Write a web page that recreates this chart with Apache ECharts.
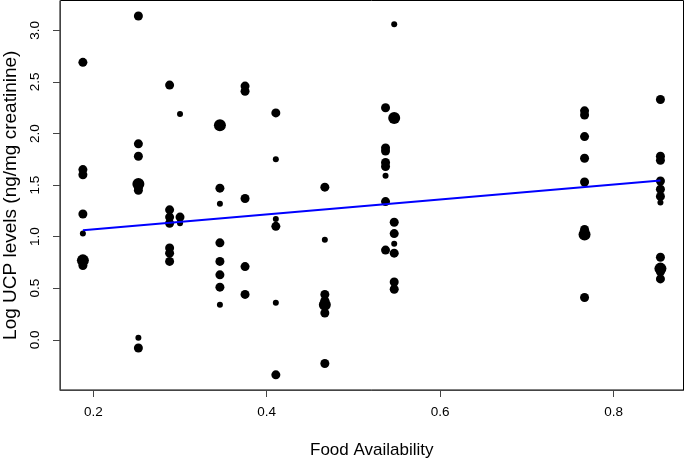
<!DOCTYPE html>
<html><head><meta charset="utf-8">
<script src="https://cdn.jsdelivr.net/npm/echarts@6/dist/echarts.min.js"></script>
<style>html,body{margin:0;padding:0;background:#fff}#c{width:685px;height:460px}</style>
</head><body><div id="c"></div>
<script>
// Data
const foodAvail = [
  0.188,0.188,0.188,0.188,0.188,0.188,0.188,0.188,
  0.252,0.252,0.252,0.252,0.252,0.252,0.252,0.252,
  0.288,0.288,0.288,0.288,0.288,0.288,0.288,
  0.300,0.300,0.300,
  0.346,0.346,0.346,0.346,0.346,0.346,0.346,0.346,
  0.375,0.375,0.375,0.375,0.375,
  0.4105,0.4105,0.4105,0.4105,0.4105,0.4105,
  0.467,0.467,0.467,0.467,0.467,0.467,0.467,
  0.537,0.537,0.537,0.537,0.537,0.537,0.537,0.537,
  0.547,0.547,0.547,0.547,0.547,0.547,0.547,0.547,
  0.7665,0.7665,0.7665,0.7665,0.7665,0.7665,0.7665,0.7665,
  0.854,0.854,0.854,0.854,0.854,0.854,0.854,0.854,0.854,0.854,0.854
];
const logUCP = [
  2.69,1.65,1.60,1.22,1.03,0.77,0.75,0.72,
  3.14,1.90,1.78,1.51,1.48,1.45,0.02,-0.08,
  2.47,1.26,1.19,1.13,0.89,0.84,0.76,
  2.19,1.19,1.13,
  2.08,1.47,1.32,0.94,0.76,0.63,0.51,0.34,
  2.46,2.41,1.37,0.71,0.44,
  2.20,1.75,1.17,1.10,0.36,-0.34,
  1.48,0.97,0.44,0.38,0.34,0.26,-0.23,
  2.25,1.86,1.83,1.72,1.68,1.59,1.34,0.87,
  3.06,2.15,1.14,1.03,0.93,0.84,0.56,0.49,
  2.22,2.18,1.97,1.76,1.53,1.07,1.02,0.41,
  2.33,1.78,1.74,1.54,1.46,1.39,1.33,0.80,0.69,0.66,0.59
];
// relative point weight (1 = small, 2 = medium, 3 = large)
const pointWeight = [
  2,2,2,2,1,3,2,2,
  2,2,2,3,2,2,1,2,
  2,2,2,2,2,2,2,
  1,2,1,
  3,2,1,2,2,2,2,1,
  2,2,2,2,2,
  2,1,1,2,1,2,
  2,1,2,2,3,2,2,
  2,2,2,2,2,1,2,2,
  1,3,2,2,1,2,2,2,
  2,2,2,2,2,2,3,2,
  2,2,2,2,2,2,1,2,3,2,2
];
const fitX = [0.188, 0.854];
const fitY = [1.063, 1.545];
const xTicks = [0.2, 0.4, 0.6, 0.8];
const yTicks = [0.0, 0.5, 1.0, 1.5, 2.0, 2.5, 3.0];

const sizeFor = {1: 6, 2: 9, 3: 12};
const pts = foodAvail.map((x, i) => [x, logUCP[i], pointWeight[i]]);
const fit = fitX.map((x, i) => [x, fitY[i]]);

const chart = echarts.init(document.getElementById('c'), null, {renderer: 'canvas'});
const font = 'Liberation Sans, Arial, sans-serif';
chart.setOption({
  animation: false,
  grid: {left: 60, top: 0.5, right: 1.5, bottom: 70, show: true, borderColor: '#000', borderWidth: 1,
         containLabel: false, outerBoundsMode: 'none'},
  xAxis: {
    type: 'value', min: 0.1616, max: 0.8806,
    name: 'Food Availability', nameLocation: 'middle', nameGap: 52,
    nameTextStyle: {fontFamily: font, fontSize: 17, color: '#000'},
    splitLine: {show: false},
    axisLine: {show: true, onZero: false, lineStyle: {color: '#444', width: 1}},
    axisTick: {show: true, length: 7, inside: false, customValues: xTicks, lineStyle: {color: '#444'}},
    axisLabel: {customValues: xTicks, margin: 15, fontFamily: font, fontSize: 13.5, color: '#000',
      formatter: v => v.toFixed(1)}
  },
  yAxis: {
    type: 'value', min: -0.487, max: 3.29,
    name: 'Log UCP levels (ng/mg creatinine)', nameLocation: 'middle', nameGap: 35, nameRotate: 90,
    nameTextStyle: {fontFamily: font, fontSize: 19, color: '#000'},
    splitLine: {show: false},
    axisLine: {show: true, onZero: false, lineStyle: {color: '#444', width: 1}},
    axisTick: {show: true, length: 7, inside: false, customValues: yTicks, lineStyle: {color: '#444'}},
    axisLabel: {customValues: yTicks, rotate: 90, margin: 18, fontFamily: font, fontSize: 13.5, color: '#000',
      formatter: v => v.toFixed(1)}
  },
  series: [
    {type: 'scatter', data: pts, symbol: 'circle',
     symbolSize: d => sizeFor[d[2]],
     itemStyle: {color: '#000', opacity: 1}, z: 2},
    {type: 'line', data: fit, showSymbol: false, symbol: 'none',
     lineStyle: {color: '#0000ff', width: 2}, z: 3}
  ]
});
</script></body></html>
